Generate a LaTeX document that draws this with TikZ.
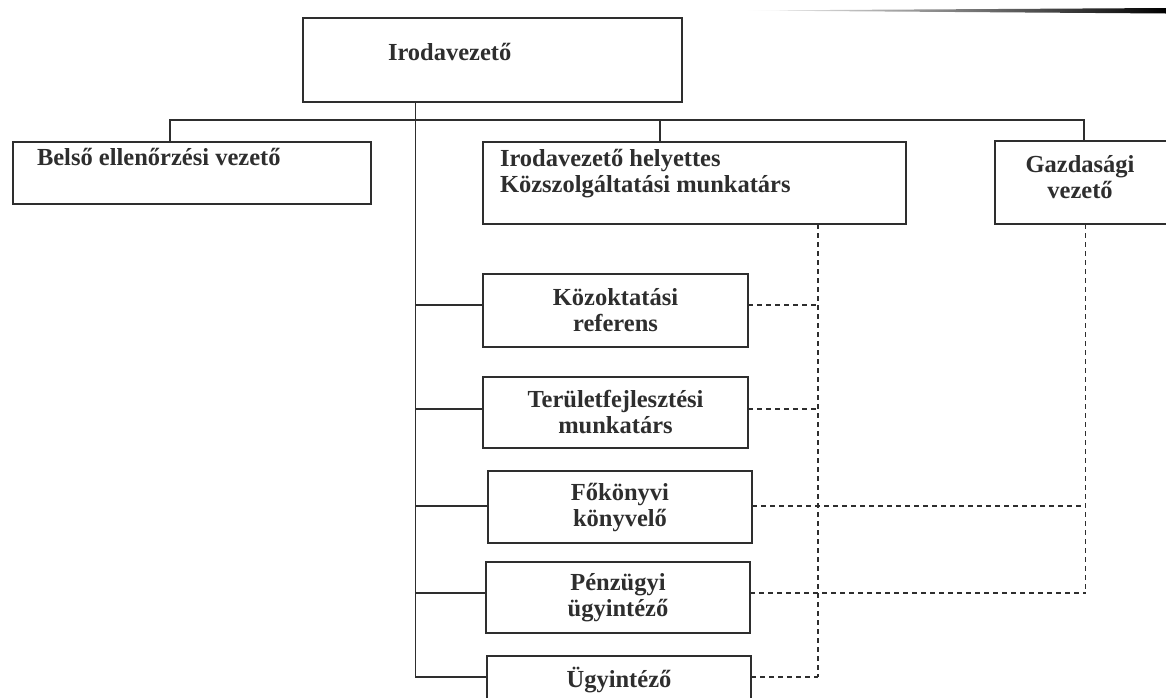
\documentclass[tikz,border=0pt]{standalone}
\usepackage{fontspec}
\setmainfont{Liberation Serif}
\newcommand\boxfont{\fontsize{24.5}{26}\selectfont\bfseries}
\definecolor{ink}{rgb}{0.18,0.18,0.18}
\tikzset{
  x=1pt, y=-1pt,
  orgbox/.style={draw=ink, line width=2.2pt, inner sep=0pt, outer sep=0pt,
                 align=center, font=\boxfont, text=ink},
  lbl/.style={inner sep=0pt, outer sep=0pt, font=\boxfont, text=ink},
  link/.style={draw=ink, line width=1.9pt},
  dashlink/.style={draw=ink, line width=1.9pt, dash pattern=on 5pt off 4pt},
}
\begin{document}
\begin{tikzpicture}
\useasboundingbox (0,0) rectangle (1166,697);

% page-edge shadow along the top
\shade[left color=white, right color=black] (745,10.5) -- (1166,8) -- (1166,13.5) -- cycle;

% boxes
\node[orgbox, minimum width=379pt, minimum height=84pt] (top) at (492.5,60) {};
\node[lbl, anchor=base west] (topT) at (388,60) {Irodavezető};

\node[orgbox, minimum width=358pt, minimum height=62pt] (belso) at (192,173) {};
\node[lbl, anchor=base west] (belsoT) at (37,165) {Belső ellenőrzési vezető};

\node[orgbox, minimum width=423pt, minimum height=82pt] (helyettes) at (694.5,183) {};
\node[lbl, anchor=west, align=left] (helyettesT) at (500,173.5)
  {Irodavezető helyettes\\Közszolgáltatási munkatárs};

\node[orgbox, minimum width=200pt, minimum height=83pt] (gazd) at (1095,182.5) {};
\node[lbl, align=center] (gazdT) at (1080,177) {Gazdasági\\vezető};

\node[orgbox, minimum width=265pt, minimum height=73pt] (kozokt) at (615.5,310.5) {Közoktatási\\referens};
\node[orgbox, minimum width=265pt, minimum height=71pt] (terulet) at (615.5,412.5) {Területfejlesztési\\munkatárs};
\node[orgbox, minimum width=264pt, minimum height=72pt] (fokonyv) at (620,507) {Főkönyvi\\könyvelő};
\node[orgbox, minimum width=264pt, minimum height=71pt] (penzugy) at (618,597.5) {Pénzügyi\\ügyintéző};
\node[orgbox, minimum width=264pt, minimum height=80pt] (ugyint) at (619,696) {};
\node[lbl, anchor=base] (ugyintT) at (619,687) {Ügyintéző};

% connection points on the side boxes
\coordinate (kW) at ([yshift=5.5pt]kozokt.west);   \coordinate (kE) at ([yshift=5.5pt]kozokt.east);
\coordinate (tW) at ([yshift=3.5pt]terulet.west);  \coordinate (tE) at ([yshift=3.5pt]terulet.east);
\coordinate (fW) at ([yshift=1pt]fokonyv.west);    \coordinate (fE) at ([yshift=1pt]fokonyv.east);
\coordinate (pW) at ([yshift=4.5pt]penzugy.west);  \coordinate (pE) at ([yshift=4.5pt]penzugy.east);
\coordinate (uW) at ([yshift=19pt]ugyint.west);    \coordinate (uE) at ([yshift=19pt]ugyint.east);

% line guides
\coordinate (spine) at (415.5,0);
\coordinate (busL) at (170,120);
\coordinate (busH) at (660,120);
\coordinate (busR) at (1084,120);
\coordinate (dL) at (818,0);
\coordinate (dR) at (1085.5,0);

% line of command
\draw[link] (busL |- belso.north) -- (busL) -- (busR) -- (busR |- gazd.north);
\draw[link] (busH) -- (busH |- helyettes.north);
\draw[link] (spine |- top.south) -- (spine |- uW) -- (uW);
\draw[link] (spine |- kW) -- (kW);
\draw[link] (spine |- tW) -- (tW);
\draw[link] (spine |- fW) -- (fW);
\draw[link] (spine |- pW) -- (pW);

% professional supervision
\draw[dashlink] (dL |- helyettes.south) -- (dL |- uE);
\draw[dashlink] (kE) -- (dL |- kE);
\draw[dashlink] (tE) -- (dL |- tE);
\draw[dashlink] (uE) -- (dL |- uE);
\draw[dashlink] (dR |- gazd.south) -- (dR |- pE);
\draw[dashlink] (fE) -- (dR |- fE);
\draw[dashlink] (pE) -- (dR |- pE);
\end{tikzpicture}
\end{document}
